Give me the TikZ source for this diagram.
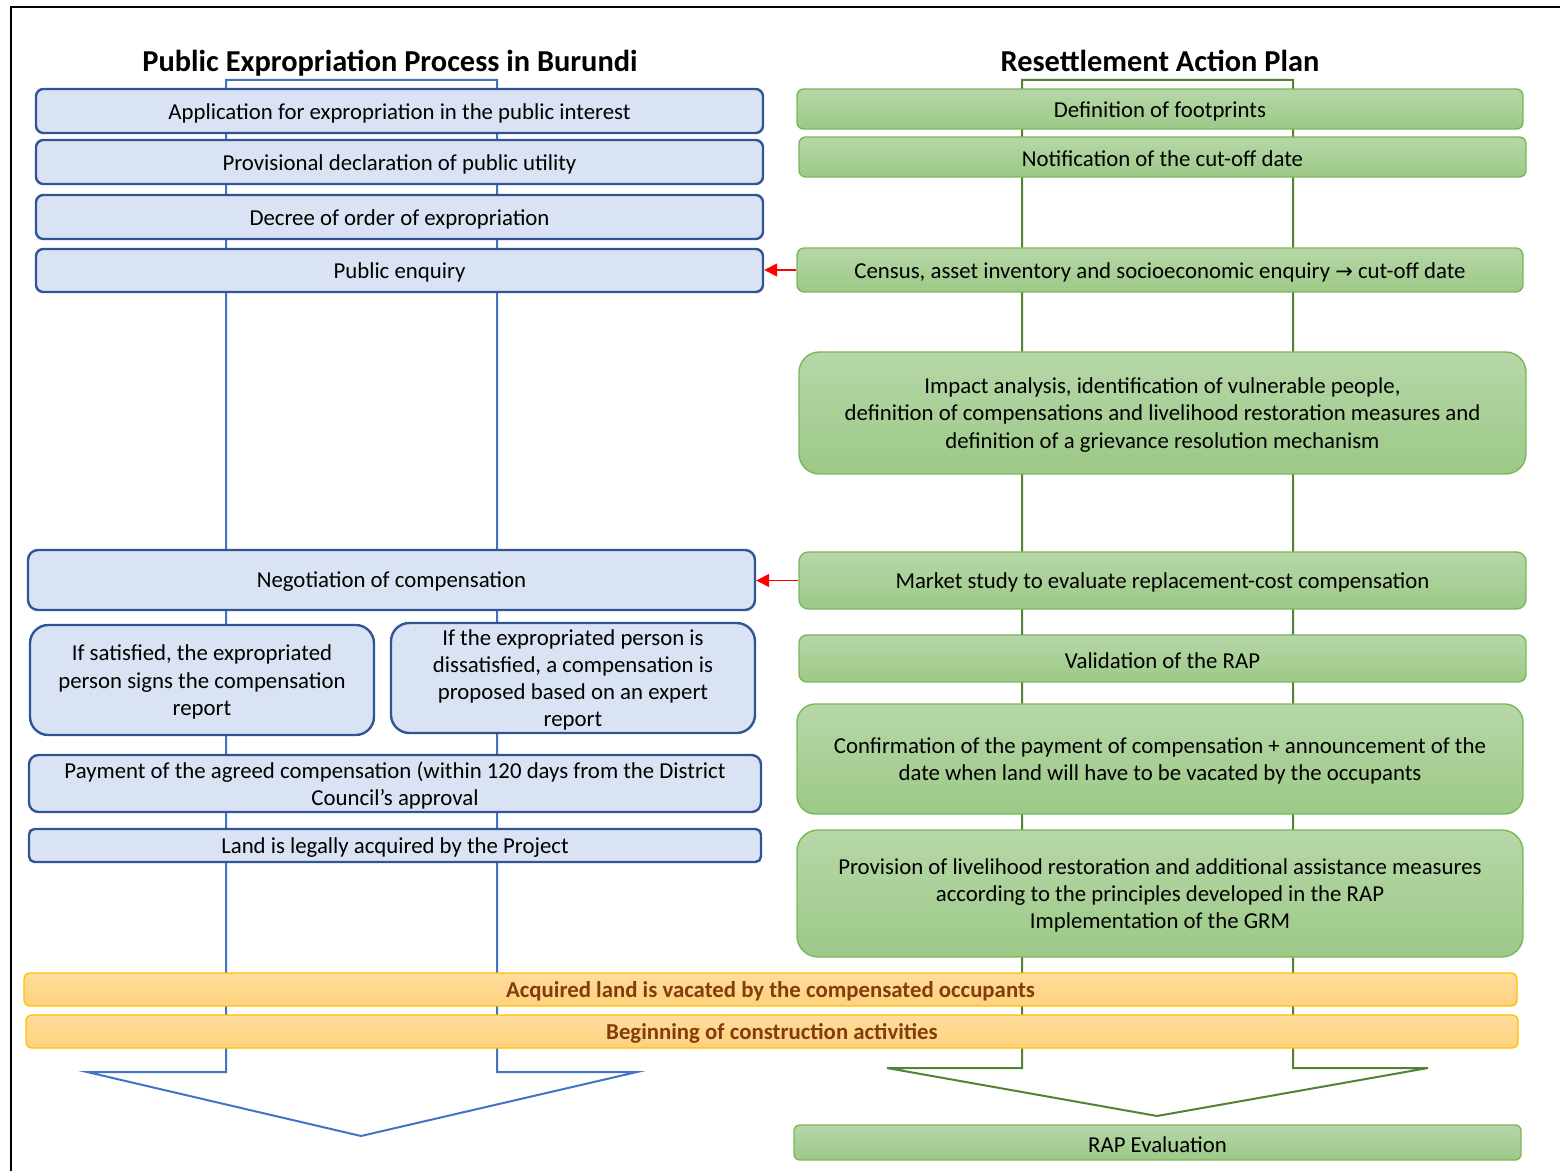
\documentclass[tikz,border=0pt]{standalone}
\usepackage{fontspec}
\setmainfont{Carlito}
\newfontfamily\symfont{DejaVu Sans}
\usetikzlibrary{arrows.meta}

\definecolor{bluefill}{HTML}{DAE3F3}
\definecolor{blueedge}{HTML}{2F5597}
\definecolor{bluearrow}{HTML}{4472C4}
\definecolor{greentop}{HTML}{B6D7A8}
\definecolor{greenbot}{HTML}{9DC987}
\definecolor{greenedge}{HTML}{7CB65A}
\definecolor{greenarrow}{HTML}{548235}
\definecolor{orangetop}{HTML}{FFDD9C}
\definecolor{orangebot}{HTML}{FFD17D}
\definecolor{orangeedge}{HTML}{FFC000}
\definecolor{orangetext}{HTML}{843C0C}

% box placed by its corners (in picture units), radius 1/6 of the shorter side;
% the label is set as its own node, slightly lowered inside the box
\newcommand\boxat[8]{%
  \pgfmathsetmacro\bxw{(#5-#3)*0.5}%
  \pgfmathsetmacro\bxh{(#6-#4)*0.5}%
  \pgfmathsetmacro\bxr{min(\bxw,\bxh)*0.1667}%
  \node[#2, minimum width=\bxw pt, minimum height=\bxh pt, rounded corners=\bxr pt]
    (#1) at ({(#3+#5)/2},{(#4+#6)/2}) {};%
  \node[#7] (#1-text) at ([yshift=-1pt]#1.center) {#8};%
}

\begin{document}
\begin{tikzpicture}[x=0.5pt,y=-0.5pt,
  shapebox/.style={inner sep=0pt},
  bluebox/.style={shapebox, draw=blueedge, fill=bluefill, line width=1.2pt},
  greenbox/.style={shapebox, draw=greenedge, top color=greentop, bottom color=greenbot, line width=0.7pt},
  orangebox/.style={shapebox, draw=orangeedge, top color=orangetop, bottom color=orangebot, line width=0.7pt},
  boxtext/.style={align=center, inner sep=0pt, text=black, font=\fontsize{11.4}{13.6}\selectfont},
  boldtext/.style={boxtext, text=orangetext, font=\fontsize{11.4}{13.6}\selectfont\bfseries},
  heading/.style={font=\fontsize{15.2}{18}\selectfont\bfseries, text=black, inner sep=0pt, anchor=base},
  bigarrow/.style={line width=1pt, fill=white},
  feed/.style={draw=red, line width=0.7pt, -{Triangle[length=6.5pt,width=6.5pt]}}
]
\useasboundingbox (0,0) rectangle (1560,1171);

% frame
\draw[line width=1pt] (11,1180) -- (11,7) -- (1570,7);

% headings
\node[heading] (tleft) at (390,72) {Public Expropriation Process in Burundi};
\node[heading] (tright) at (1160,72) {Resettlement Action Plan};

% large block arrows behind the steps
\draw[bigarrow, draw=bluearrow] (226,80) -- (497,80) -- (497,1072) -- (637,1072)
  -- (361,1136) -- (87,1072) -- (226,1072) -- cycle;
\draw[bigarrow, draw=greenarrow] (1022,80) -- (1293,80) -- (1293,1068) -- (1428,1068)
  -- (1157,1116) -- (887,1068) -- (1022,1068) -- cycle;

% expropriation steps
\boxat{a1}{bluebox}{36}{89}{763}{133}{boxtext}{Application for expropriation in the public interest}
\boxat{a2}{bluebox}{36}{140}{763}{184}{boxtext}{Provisional declaration of public utility}
\boxat{a3}{bluebox}{36}{195}{763}{239}{boxtext}{Decree of order of expropriation}
\boxat{a4}{bluebox}{36}{249}{763}{292}{boxtext}{Public enquiry}
\boxat{a5}{bluebox}{28}{550}{755}{610}{boxtext}{Negotiation of compensation}
\boxat{a6}{bluebox}{30}{625}{374}{735}{boxtext}{If satisfied, the expropriated\\person signs the compensation\\report}
\boxat{a7}{bluebox}{391}{623}{755}{733}{boxtext}{If the expropriated person is\\dissatisfied, a compensation is\\proposed based on an expert\\report}
\boxat{a8}{bluebox}{29}{755}{761}{812}{boxtext}{Payment of the agreed compensation (within 120 days from the District\\Council’s approval}
\boxat{a9}{bluebox}{29}{829}{761}{862}{boxtext}{Land is legally acquired by the Project}

% resettlement action plan steps
\boxat{b1}{greenbox}{797}{89}{1523}{129}{boxtext}{Definition of footprints}
\boxat{b2}{greenbox}{799}{137}{1526}{177}{boxtext}{Notification of the cut-off date}
\boxat{b3}{greenbox}{797}{248}{1523}{292}{boxtext}{Census, asset inventory and socioeconomic enquiry {\symfont\fontsize{10.5}{12}\selectfont →} cut-off date}
\boxat{b4}{greenbox}{799}{352}{1526}{474}{boxtext}{Impact analysis, identification of vulnerable people,\\definition of compensations and livelihood restoration measures and\\definition of a grievance resolution mechanism}
\boxat{b5}{greenbox}{799}{552}{1526}{609}{boxtext}{Market study to evaluate replacement-cost compensation}
\boxat{b6}{greenbox}{799}{635}{1526}{682}{boxtext}{Validation of the RAP}
\boxat{b7}{greenbox}{797}{704}{1523}{814}{boxtext}{Confirmation of the payment of compensation + announcement of the\\date when land will have to be vacated by the occupants}
\boxat{b8}{greenbox}{797}{830}{1523}{957}{boxtext}{Provision of livelihood restoration and additional assistance measures\\according to the principles developed in the RAP\\Implementation of the GRM}
\boxat{b9}{greenbox}{794}{1125}{1521}{1160}{boxtext}{RAP Evaluation}

% shared steps
\boxat{c1}{orangebox}{24}{973}{1517}{1006}{boldtext}{Acquired land is vacated by the compensated occupants}
\boxat{c2}{orangebox}{26}{1015}{1518}{1048}{boldtext}{Beginning of construction activities}

% links between the two processes
\draw[feed] (b3.west) -- (b3.west -| a4.east);
\draw[feed] (b5.west) -- (b5.west -| a5.east);
\end{tikzpicture}
\end{document}
